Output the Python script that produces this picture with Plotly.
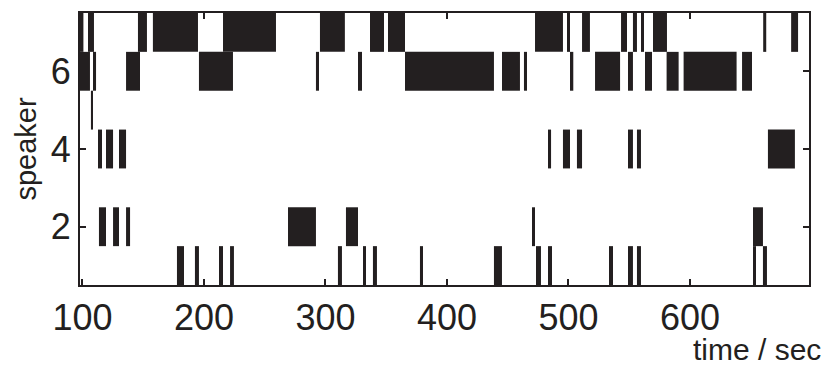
import plotly.graph_objects as go

# Speaking intervals (start, end) in seconds, per speaker
speaker_ids = [1, 2, 3, 4, 5, 6, 7]

spk1 = [(177.8, 183.6), (192.6, 195.9), (212.4, 215.7), (221.5, 224.7),
        (310.3, 313.6), (330.9, 333.4), (339.1, 342.4), (377.8, 380.3),
        (438.7, 445.3), (473.3, 477.4), (483.2, 486.5), (533.4, 536.7),
        (549.0, 553.1), (556.4, 559.7), (651.9, 654.4), (660.1, 663.4)]
spk2 = [(113.6, 119.4), (125.2, 130.1), (135.9, 139.2), (269.2, 292.2),
        (316.9, 326.8), (470.0, 472.5), (651.9, 660.1)]
spk3 = []
spk4 = [(112.8, 116.1), (119.4, 125.2), (130.1, 135.9), (483.2, 485.7),
        (495.5, 501.3), (507.0, 511.2), (549.0, 553.1), (556.4, 559.7),
        (664.2, 686.4)]
spk5 = [(107.0, 108.7)]
spk6 = [(98.0, 106.2), (108.7, 111.2), (135.9, 147.4), (195.9, 223.9),
        (292.2, 294.7), (326.8, 330.1), (365.5, 438.7), (445.3, 460.1),
        (463.4, 465.9), (501.3, 504.0), (521.9, 542.5), (549.0, 553.1),
        (563.0, 568.8), (580.8, 590.7), (594.8, 638.4), (642.9, 651.1)]
spk7 = [(98.0, 100.8), (104.6, 109.5), (145.7, 153.1), (158.0, 195.1),
        (215.7, 259.3), (295.5, 316.0), (336.7, 348.2), (351.5, 365.5),
        (472.5, 495.5), (498.8, 501.3), (511.2, 517.7), (543.3, 548.2),
        (553.1, 556.4), (559.7, 562.2), (569.6, 581.1), (660.3, 662.8),
        (683.3, 689.0)]

intervals = [spk1, spk2, spk3, spk4, spk5, spk6, spk7]

x_ticks = [100, 200, 300, 400, 500, 600]
y_ticks = [2, 4, 6]
x_range = [98, 698]
y_range = [0.5, 7.5]

ink = "#231f20"
font_family = "Liberation Sans, Arial, Helvetica, sans-serif"

fig = go.Figure()
for sid, segs in zip(speaker_ids, intervals):
    if not segs:
        continue
    fig.add_trace(go.Bar(
        orientation="h",
        y=[sid] * len(segs),
        base=[s for s, e in segs],
        x=[e - s for s, e in segs],
        width=1,
        marker=dict(color=ink, line=dict(width=0)),
        showlegend=False,
        hoverinfo="skip",
    ))

axis_common = dict(
    showgrid=False, zeroline=False,
    showline=True, linecolor=ink, linewidth=2, mirror="ticks",
    ticks="inside", ticklen=6, tickwidth=1.5, tickcolor=ink,
    tickfont=dict(family=font_family, size=36, color=ink),
)

fig.update_layout(
    width=826, height=365,
    margin=dict(l=80, r=17, t=11, b=80),
    paper_bgcolor="white", plot_bgcolor="white",
    barmode="overlay",
    xaxis=dict(range=x_range, tickvals=x_ticks, **axis_common),
    yaxis=dict(range=y_range, tickvals=y_ticks,
               title=dict(text="speaker", standoff=6,
                          font=dict(family=font_family, size=29, color=ink)),
               **axis_common),
    annotations=[dict(
        text="time / sec", xref="paper", yref="paper", x=1, y=0,
        xshift=14, yshift=-46, xanchor="right", yanchor="top", showarrow=False,
        font=dict(family=font_family, size=30, color=ink),
    )],
)

fig.write_html("out.html")
